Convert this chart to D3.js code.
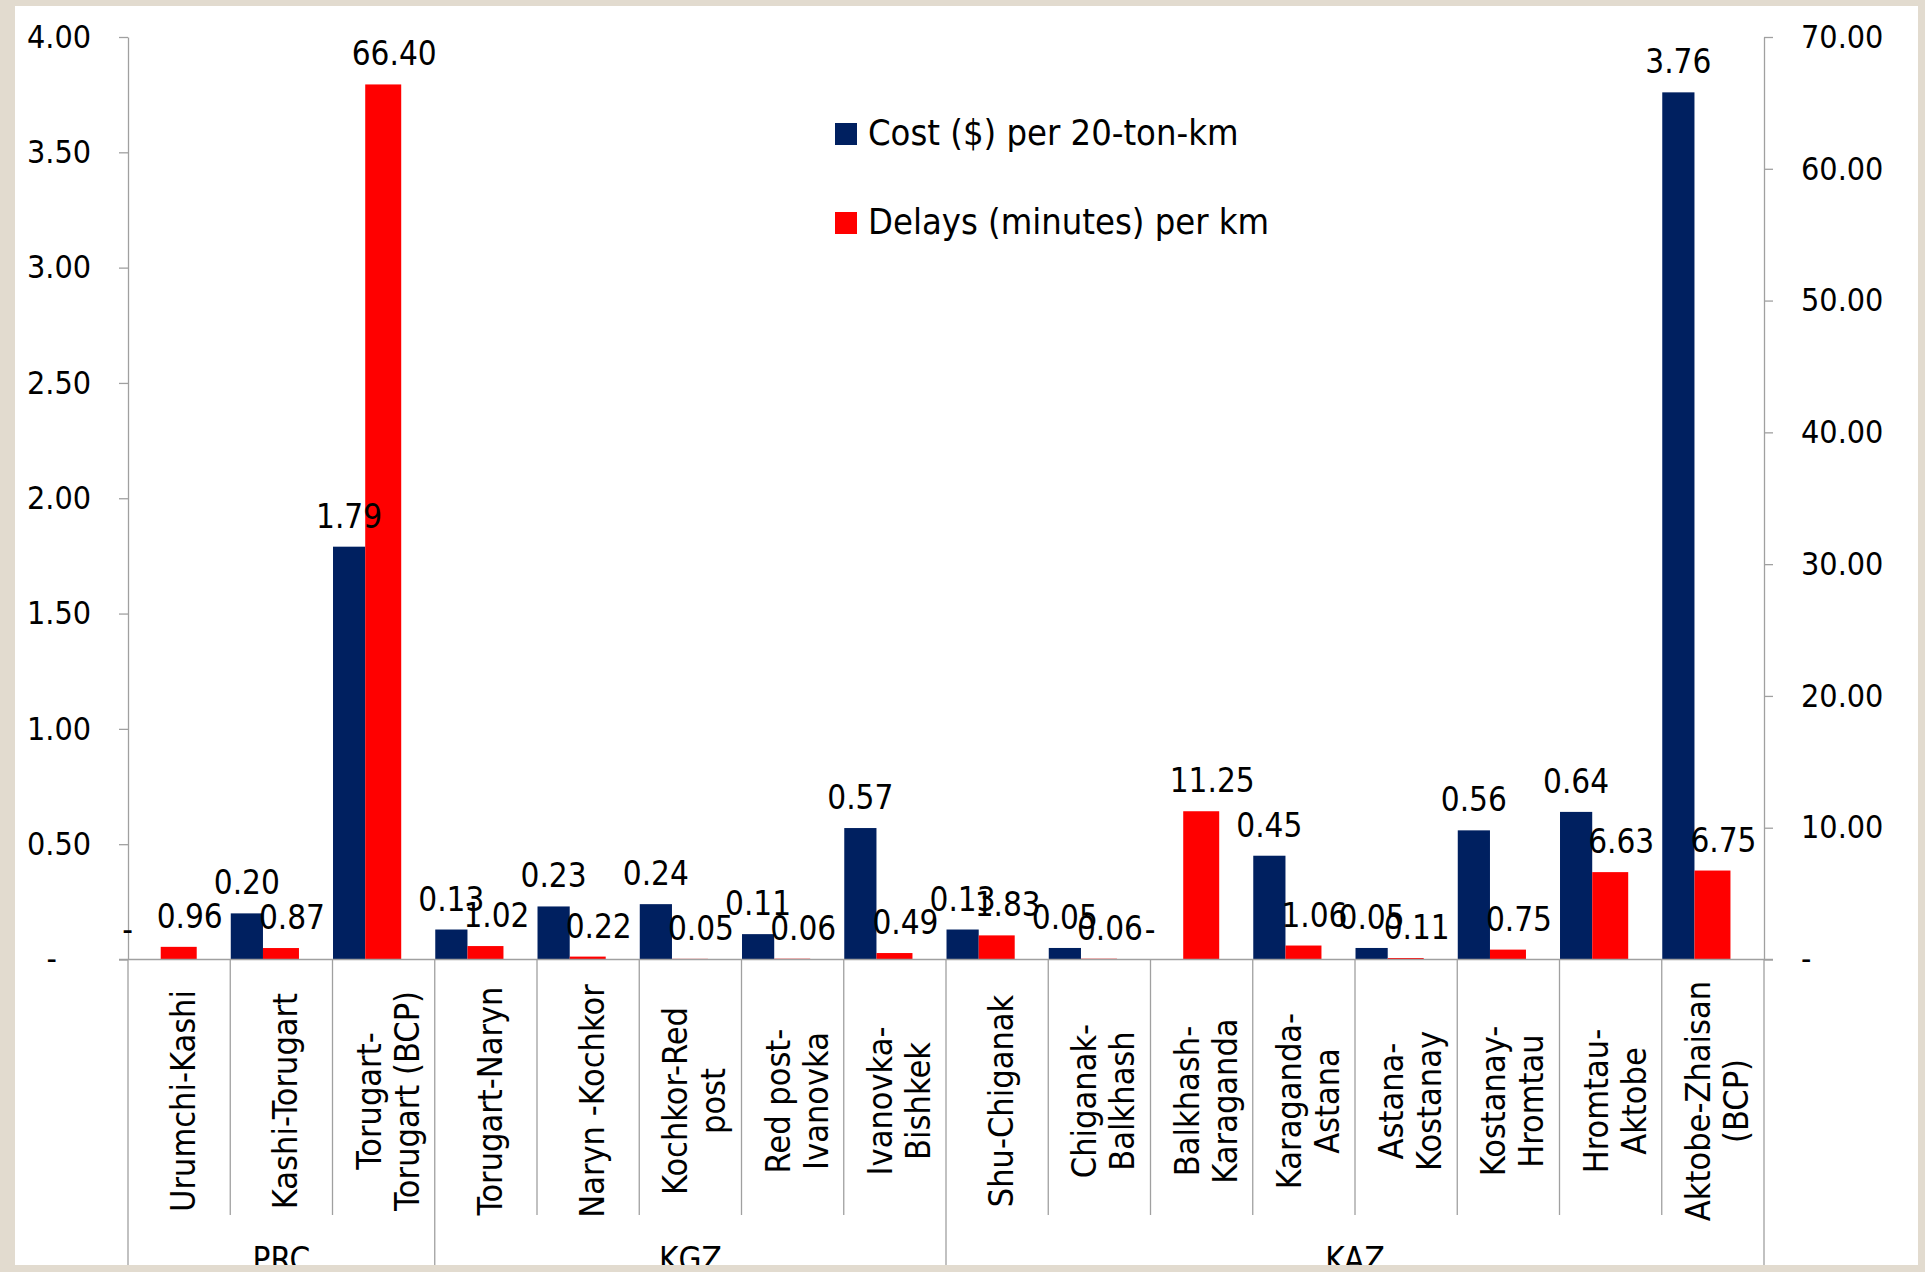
<!DOCTYPE html>
<html>
<head>
<meta charset="utf-8">
<script src="https://cdn.jsdelivr.net/npm/d3@7"></script>
<style>
  html, body { margin: 0; padding: 0; background: #e2dbcf; }
  svg { display: block; }
  text { font-family: "DejaVu Sans Condensed", "DejaVu Sans", sans-serif; font-stretch: condensed; fill: #000; }
</style>
</head>
<body>
<svg id="chart" width="1925" height="1272"></svg>
<script>
// route segments, label lines as drawn under the axis
const categories = [
  ["Urumchi-Kashi"],
  ["Kashi-Torugart"],
  ["Torugart-", "Torugart (BCP)"],
  ["Torugart-Naryn"],
  ["Naryn -Kochkor"],
  ["Kochkor-Red", "post"],
  ["Red post-", "Ivanovka"],
  ["Ivanovka-", "Bishkek"],
  ["Shu-Chiganak"],
  ["Chiganak-", "Balkhash"],
  ["Balkhash-", "Karaganda"],
  ["Karaganda-", "Astana"],
  ["Astana-", "Kostanay"],
  ["Kostanay-", "Hromtau"],
  ["Hromtau-", "Aktobe"],
  ["Aktobe-Zhaisan", "(BCP)"]
];
const groups = [
  { name: "PRC", from: 0, to: 2 },
  { name: "KGZ", from: 3, to: 7 },
  { name: "KAZ", from: 8, to: 15 }
];
// Cost ($) per 20-ton-km  (left axis)
const cost = [0, 0.20, 1.79, 0.13, 0.23, 0.24, 0.11, 0.57, 0.13, 0.05, 0, 0.45, 0.05, 0.56, 0.64, 3.76];
// Delays (minutes) per km  (right axis)
const delays = [0.96, 0.87, 66.40, 1.02, 0.22, 0.05, 0.06, 0.49, 1.83, 0.06, 11.25, 1.06, 0.11, 0.75, 6.63, 6.75];
const leftTicks = [0, 0.5, 1, 1.5, 2, 2.5, 3, 3.5, 4];
const rightTicks = [0, 10, 20, 30, 40, 50, 60, 70];
const legendItems = ["Cost ($) per 20-ton-km", "Delays (minutes) per km"];

const BLUE = "#002060", RED = "#ff0000", AXIS = "#a0a0a0";
const plot = { left: 128, right: 1764, top: 37, bottom: 959.5 };

const svg = d3.select("#chart");

// white panel, everything clipped to it
svg.append("defs").append("clipPath").attr("id", "panel")
  .append("rect").attr("x", 15).attr("y", 6).attr("width", 1903).attr("height", 1259);
svg.append("rect").attr("x", 15).attr("y", 6).attr("width", 1903).attr("height", 1259).attr("fill", "#fff");
const g = svg.append("g").attr("clip-path", "url(#panel)");

const x = d3.scaleBand().domain(d3.range(categories.length)).range([plot.left, plot.right]).padding(0);
const bw = x.bandwidth();
const yL = d3.scaleLinear().domain([0, 4]).range([plot.bottom, plot.top]);
const yR = d3.scaleLinear().domain([0, 70]).range([plot.bottom, plot.top]);
const fmt = v => v === 0 ? "-" : d3.format(".2f")(v);

// bars
const blueX = i => x(i) + bw * 0.005, blueW = bw * 0.315;
const redX = i => x(i) + bw * 0.32, redW = bw * 0.352;

g.append("g").selectAll("rect").data(cost).enter().append("rect")
  .attr("x", (d, i) => blueX(i)).attr("width", blueW)
  .attr("y", d => yL(d)).attr("height", d => yL(0) - yL(d))
  .attr("fill", BLUE);

g.append("g").selectAll("rect").data(delays).enter().append("rect")
  .attr("x", (d, i) => redX(i)).attr("width", redW)
  .attr("y", d => yR(d)).attr("height", d => yR(0) - yR(d))
  .attr("fill", RED);

// axes
const leftAxis = d3.axisLeft(yL).tickValues(leftTicks).tickSize(9).tickSizeOuter(0).tickPadding(28).tickFormat(fmt);
const rightAxis = d3.axisRight(yR).tickValues(rightTicks).tickSize(9).tickSizeOuter(0).tickPadding(28).tickFormat(fmt);

const la = g.append("g").attr("transform", `translate(${plot.left},0)`).call(leftAxis);
const ra = g.append("g").attr("transform", `translate(${plot.right},0)`).call(rightAxis);
[la, ra].forEach(a => {
  a.select(".domain").attr("stroke", AXIS).attr("stroke-width", 1.3);
  a.selectAll(".tick line").attr("stroke", AXIS).attr("stroke-width", 1.3);
  a.selectAll(".tick text").attr("font-size", 32).attr("font-family", null);
});
la.selectAll(".tick text").filter(d => d === 0).attr("x", -71);
// right axis line runs down through the category area
ra.append("line").attr("y1", plot.bottom).attr("y2", 1272).attr("stroke", AXIS).attr("stroke-width", 1.3);

// baseline
g.append("line").attr("x1", plot.left - 9).attr("x2", plot.right + 9)
  .attr("y1", plot.bottom).attr("y2", plot.bottom).attr("stroke", AXIS).attr("stroke-width", 1.3);

// category separators
const groupStarts = groups.map(d => d.from);
g.append("g").selectAll("line").data(d3.range(categories.length)).enter().append("line")
  .attr("x1", i => x(i)).attr("x2", i => x(i))
  .attr("y1", plot.bottom).attr("y2", i => groupStarts.includes(i) ? 1272 : 1215)
  .attr("stroke", AXIS).attr("stroke-width", 1.3);

// data labels
g.append("g").selectAll("text").data(cost).enter().append("text")
  .attr("x", (d, i) => blueX(i) + blueW / 2 + (d === 0 ? -17 : 0))
  .attr("y", d => yL(d) - 19)
  .attr("text-anchor", "middle").attr("font-size", 33)
  .text(fmt);

g.append("g").selectAll("text").data(delays).enter().append("text")
  .attr("x", (d, i) => redX(i) + redW / 2 + 11)
  .attr("y", d => yR(d) - 19)
  .attr("text-anchor", "middle").attr("font-size", 33)
  .text(fmt);

// category labels, rotated
const cl = g.append("g").selectAll("text").data(categories).enter().append("text")
  .attr("transform", (d, i) => `translate(${x(i) + bw / 2},1101) rotate(-90)`)
  .attr("text-anchor", "middle").attr("font-size", 34);
cl.selectAll("tspan").data(d => d.map((t, j) => ({ t, j, n: d.length }))).enter().append("tspan")
  .attr("x", 0).attr("y", d => 16 + (d.j - (d.n - 1) / 2) * 38)
  .text(d => d.t);

// group labels
g.append("g").selectAll("text").data(groups).enter().append("text")
  .attr("x", d => (x(d.from) + x(d.to) + bw) / 2).attr("y", 1271)
  .attr("text-anchor", "middle").attr("font-size", 33)
  .text(d => d.name);

// legend
const lg = g.append("g").attr("transform", "translate(835,0)");
const legendColor = d3.scaleOrdinal().domain(legendItems).range([BLUE, RED]);
const legendY = d3.scalePoint().domain(legendItems).range([145, 234]);
lg.selectAll("rect").data(legendItems).enter().append("rect")
  .attr("x", 0).attr("y", d => legendY(d) - 22).attr("width", 22).attr("height", 22)
  .attr("fill", d => legendColor(d));
lg.selectAll("text").data(legendItems).enter().append("text")
  .attr("x", 33).attr("y", d => legendY(d))
  .attr("font-size", 36)
  .text(d => d);
</script>
</body>
</html>
